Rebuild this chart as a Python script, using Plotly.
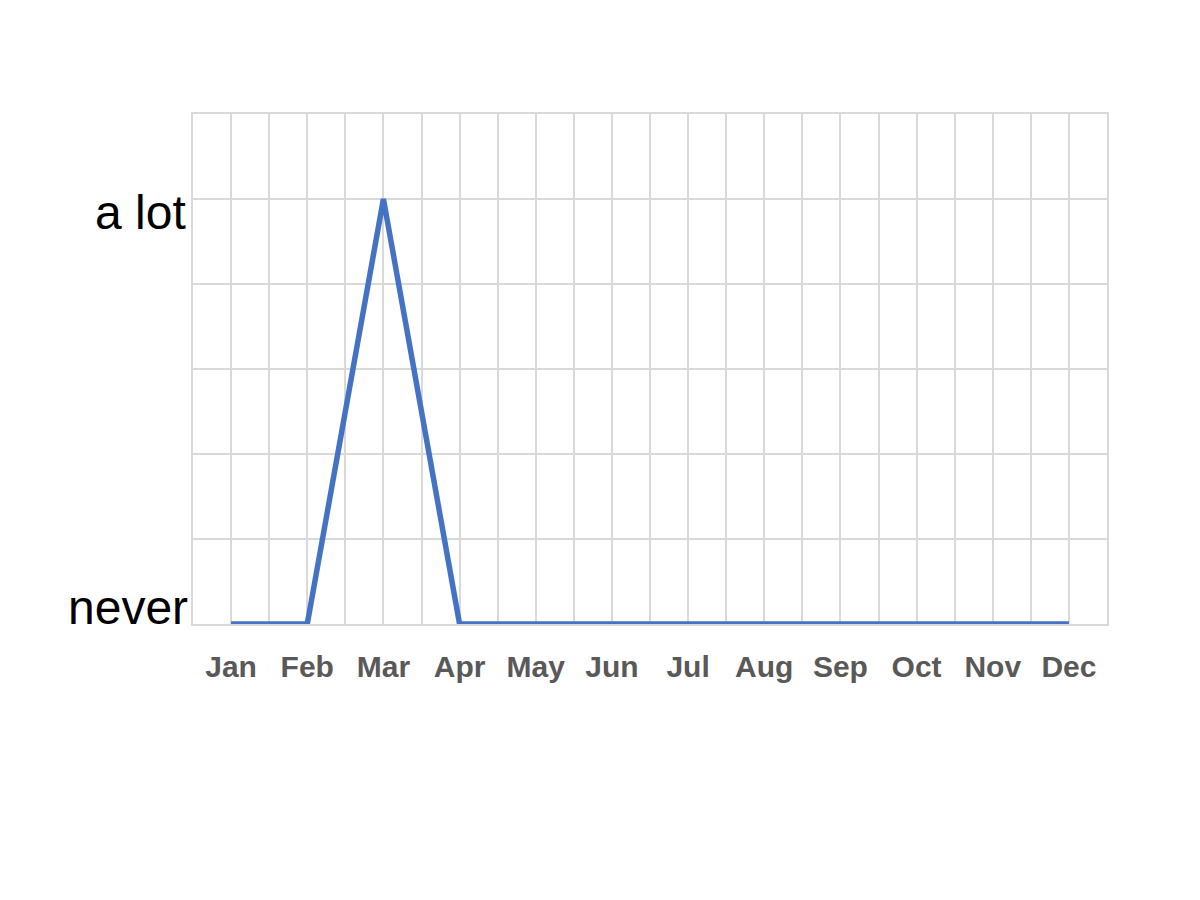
import plotly.graph_objects as go

# data
months = ["Jan", "Feb", "Mar", "Apr", "May", "Jun",
          "Jul", "Aug", "Sep", "Oct", "Nov", "Dec"]
values = [0, 0, 5, 0, 0, 0, 0, 0, 0, 0, 0, 0]
y_labels = ["never", "a lot"]
y_label_vals = [0, 5]

x_idx = list(range(len(months)))

fig = go.Figure()
fig.add_trace(go.Scatter(
    x=x_idx,
    y=values,
    mode="lines",
    line=dict(color="#4472C4", width=5.5),
    cliponaxis=False,
    hoverinfo="skip",
))

# y labels as annotations so they sit like the original (top / bottom aligned)
fig.add_annotation(x=0, xref="paper", y=y_label_vals[1], yref="y",
                   text=y_labels[1], showarrow=False,
                   xanchor="right", yanchor="top", xshift=-5, yshift=15,
                   font=dict(family="Liberation Sans, Arial", size=48, color="black"))
fig.add_annotation(x=0, xref="paper", y=y_label_vals[0], yref="y",
                   text=y_labels[0], showarrow=False,
                   xanchor="right", yanchor="bottom", xshift=-3, yshift=-12,
                   font=dict(family="Liberation Sans, Arial", size=48, color="black"))

grid_col = "#d9d9d9"

fig.update_layout(
    width=1200, height=900,
    paper_bgcolor="white", plot_bgcolor="white",
    margin=dict(l=185, r=101, t=106, b=284),
    showlegend=False,
    xaxis=dict(
        range=[-0.5, 11.5],
        tickmode="array", tickvals=x_idx, ticktext=months,
        tickfont=dict(family="Liberation Sans, Arial", size=30, color="#595959", weight="bold"),
        showgrid=True, gridcolor=grid_col, gridwidth=1.5,
        minor=dict(dtick=0.5, tick0=-0.5, showgrid=True, gridcolor=grid_col, gridwidth=1.5),
        showline=True, linecolor=grid_col, linewidth=1.5, mirror=True,
        zeroline=False, ticks="", ticklabelstandoff=15,
        fixedrange=True,
    ),
    yaxis=dict(
        range=[0, 6],
        tickmode="array", tickvals=y_label_vals, ticktext=["", ""],
        showgrid=True, gridcolor=grid_col, gridwidth=1.5,
        minor=dict(dtick=1, tick0=0, showgrid=True, gridcolor=grid_col, gridwidth=1.5),
        showline=True, linecolor=grid_col, linewidth=1.5, mirror=True,
        zeroline=False, ticks="",
        fixedrange=True,
    ),
)

fig.write_html("out.html")
